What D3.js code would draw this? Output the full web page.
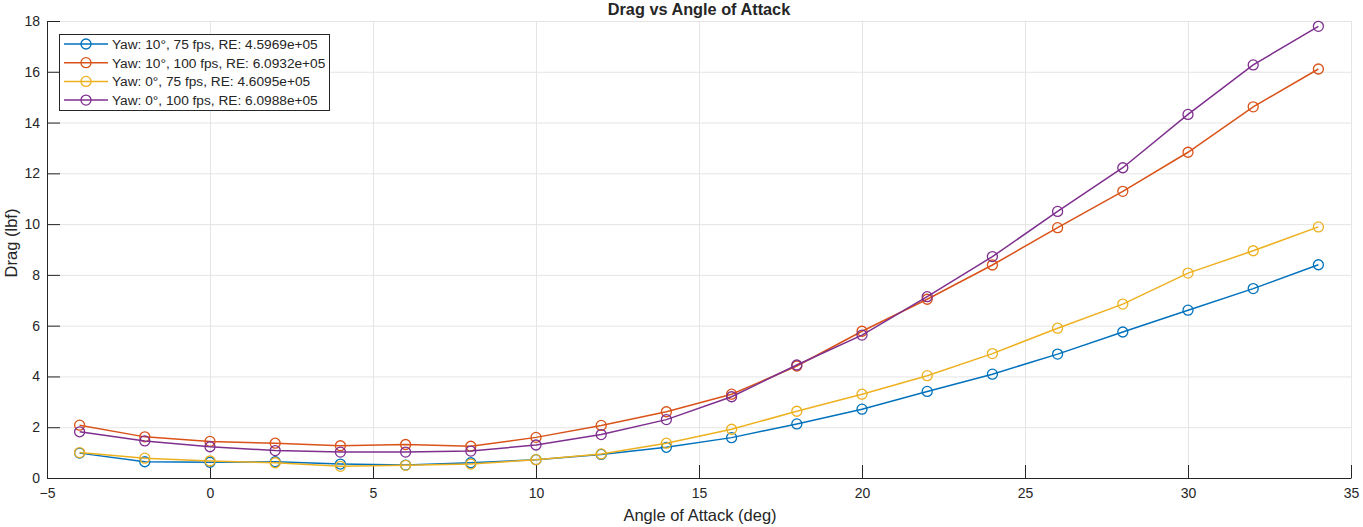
<!DOCTYPE html>
<html>
<head>
<meta charset="utf-8">
<script src="https://cdn.jsdelivr.net/npm/d3@7"></script>
<style>
  body { margin: 0; background: #fff; }
  text { font-family: "Liberation Sans", Arial, sans-serif; fill: #262626; }
</style>
</head>
<body>
<svg width="1363" height="527"></svg>
<script>
// angle of attack (deg)
var aoa = [-4, -2, 0, 2, 4, 6, 8, 10, 12, 14, 16, 18, 20, 22, 24, 26, 28, 30, 32, 34];

// drag (lbf) per run
var yaw10_75 = [0.98, 0.64, 0.62, 0.64, 0.55, 0.51, 0.60, 0.72, 0.93, 1.21, 1.59, 2.13, 2.71, 3.41, 4.09, 4.88, 5.75, 6.61, 7.46, 8.40];
var yaw10_100 = [2.08, 1.62, 1.44, 1.37, 1.27, 1.32, 1.25, 1.60, 2.07, 2.61, 3.30, 4.41, 5.78, 7.04, 8.39, 9.86, 11.29, 12.83, 14.62, 16.11];
var yaw0_75 = [1.00, 0.78, 0.67, 0.60, 0.46, 0.50, 0.55, 0.72, 0.95, 1.37, 1.92, 2.63, 3.30, 4.03, 4.90, 5.90, 6.85, 8.07, 8.95, 9.89];
var yaw0_100 = [1.82, 1.46, 1.23, 1.08, 1.02, 1.02, 1.06, 1.30, 1.71, 2.30, 3.20, 4.45, 5.63, 7.14, 8.72, 10.50, 12.22, 14.32, 16.27, 17.79];

var seriesNames = ["Yaw: 10°, 75 fps, RE: 4.5969e+05", "Yaw: 10°, 100 fps, RE: 6.0932e+05",
                   "Yaw: 0°, 75 fps, RE: 4.6095e+05", "Yaw: 0°, 100 fps, RE: 6.0988e+05"];
var seriesColors = ["#0072BD", "#D95319", "#EDB120", "#7E2F8E"];

var xTicks = [-5, 0, 5, 10, 15, 20, 25, 30, 35];
var yTicks = [0, 2, 4, 6, 8, 10, 12, 14, 16, 18];

var series = [yaw10_75, yaw10_100, yaw0_75, yaw0_100].map(function(vals, i) {
  return { name: seriesNames[i], color: seriesColors[i],
           points: vals.map(function(v, j) { return { x: aoa[j], y: v }; }) };
});

var svg = d3.select("svg"),
    margin = {top: 21, right: 12, bottom: 49, left: 47},
    width = +svg.attr("width") - margin.left - margin.right,
    height = +svg.attr("height") - margin.top - margin.bottom;

var x = d3.scaleLinear().domain([-5, 35]).range([0, width]),
    y = d3.scaleLinear().domain([0, 18]).range([height, 0]);

var g = svg.append("g")
    .attr("transform", "translate(" + margin.left + "," + margin.top + ")");

// grid
g.append("g").selectAll("line").data(xTicks).enter().append("line")
    .attr("x1", function(d) { return x(d) + 0.5; }).attr("x2", function(d) { return x(d) + 0.5; })
    .attr("y1", 0).attr("y2", height)
    .attr("stroke", "#e5e5e5").attr("stroke-width", 1);
g.append("g").selectAll("line").data(yTicks).enter().append("line")
    .attr("y1", function(d) { return y(d) + 0.5; }).attr("y2", function(d) { return y(d) + 0.5; })
    .attr("x1", 0).attr("x2", width)
    .attr("stroke", "#e5e5e5").attr("stroke-width", 1);

// axes, ticks pointing inward like matlab
var xAxis = g.append("g")
    .attr("transform", "translate(0," + height + ")")
    .call(d3.axisBottom(x).tickValues(xTicks).tickSizeInner(-13).tickSizeOuter(0).tickPadding(10));
var yAxis = g.append("g")
    .call(d3.axisLeft(y).tickValues(yTicks).tickSizeInner(-13).tickSizeOuter(0).tickPadding(7));

[xAxis, yAxis].forEach(function(a) {
  a.select(".domain").attr("stroke", "#262626");
  a.selectAll(".tick line").attr("stroke", "#262626");
  a.selectAll(".tick text").attr("fill", "#262626")
      .style("font-family", "'Liberation Sans', Arial, sans-serif").style("font-size", "14px");
});

// lines and markers
var line = d3.line().x(function(d) { return x(d.x); }).y(function(d) { return y(d.y); });

series.forEach(function(s) {
  var sg = g.append("g");
  sg.append("path")
      .datum(s.points)
      .attr("d", line)
      .attr("fill", "none")
      .attr("stroke", s.color)
      .attr("stroke-width", 1.5);
  sg.selectAll("circle").data(s.points).enter().append("circle")
      .attr("cx", function(d) { return x(d.x); })
      .attr("cy", function(d) { return y(d.y); })
      .attr("r", 5)
      .attr("fill", "none")
      .attr("stroke", s.color)
      .attr("stroke-width", 1.3);
});

// title and labels
svg.append("text")
    .attr("x", margin.left + width / 2).attr("y", 15)
    .attr("text-anchor", "middle")
    .style("font-size", "16.3px").style("font-weight", "bold")
    .text("Drag vs Angle of Attack");

svg.append("text")
    .attr("x", 700).attr("y", 521)
    .attr("text-anchor", "middle")
    .style("font-size", "16.5px")
    .text("Angle of Attack (deg)");

svg.append("text")
    .attr("transform", "translate(17,243) rotate(-90)")
    .attr("text-anchor", "middle")
    .style("font-size", "16.5px")
    .text("Drag (lbf)");

// legend
var legend = svg.append("g").attr("transform", "translate(59,34)");
legend.append("rect")
    .attr("x", 0.5).attr("y", 0.5).attr("width", 270).attr("height", 76)
    .attr("fill", "#fff").attr("stroke", "#262626").attr("stroke-width", 1);

var item = legend.selectAll(".item").data(series).enter().append("g")
    .attr("class", "item")
    .attr("transform", function(d, i) { return "translate(0," + (10 + i * 18.7) + ")"; });
item.append("line")
    .attr("x1", 5).attr("x2", 49).attr("y1", 0).attr("y2", 0)
    .attr("stroke", function(d) { return d.color; }).attr("stroke-width", 1.5);
item.append("circle")
    .attr("cx", 27).attr("cy", 0).attr("r", 5)
    .attr("fill", "none").attr("stroke", function(d) { return d.color; }).attr("stroke-width", 1.3);
item.append("text")
    .attr("x", 53).attr("y", 5)
    .style("font-size", "13.7px")
    .text(function(d) { return d.name; });
</script>
</body>
</html>
